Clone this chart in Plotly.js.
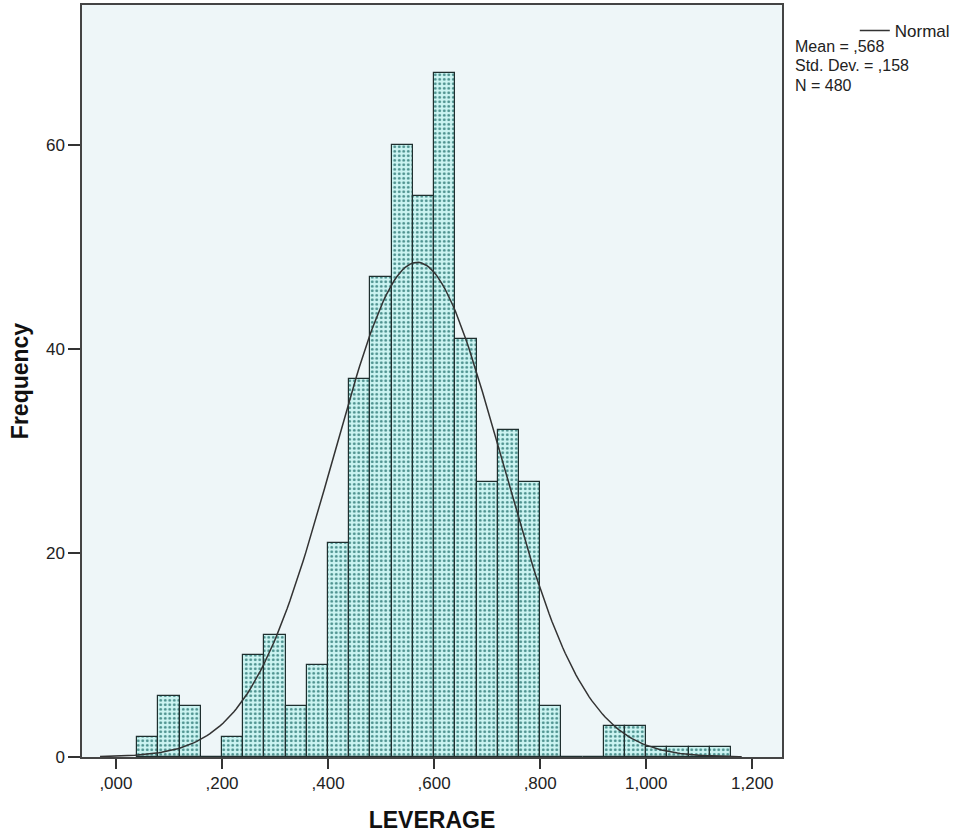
<!DOCTYPE html>
<html>
<head>
<meta charset="utf-8">
<script src="https://cdn.plot.ly/plotly-3.0.1.min.js"></script>
<style>html,body{margin:0;padding:0;background:#fff;}</style>
</head>
<body>
<div id="chart" style="width:960px;height:836px;"></div>
<script>
// Histogram bins (left edges) and frequencies
const binStarts = [0.04,0.08,0.12,0.16,0.20,0.24,0.28,0.32,0.36,0.40,0.44,0.48,0.52,0.56,0.60,0.64,0.68,0.72,0.76,0.80,0.84,0.88,0.92,0.96,1.00,1.04,1.08,1.12];
const frequencies = [2,6,5,0,2,10,12,5,9,21,37,47,60,55,67,41,27,32,27,5,0,0,3,3,1,1,1,1];
const binWidth = 0.04;

// Stated statistics for the fitted normal curve
const statMean = 0.568;
const statSD = 0.158;
const statN = 480;
const statLines = ['Mean = ,568', 'Std. Dev. = ,158', 'N = 480'];

const xTickVals = [0,0.2,0.4,0.6,0.8,1.0,1.2];
const xTickText = [",000",",200",",400",",600",",800","1,000","1,200"];
const yTickVals = [0,20,40,60];

const binCenters = binStarts.map(s => s + binWidth/2);

// Normal density scaled to counts, from the stated mean, SD and N
const curveX = [];
const curveY = [];
for (let i = 0; i <= 240; i++) {
  const x = -0.03 + i * (1.21/240);
  const z = (x - statMean) / statSD;
  curveX.push(x);
  curveY.push(statN * binWidth * Math.exp(-0.5*z*z) / (statSD*Math.sqrt(2*Math.PI)));
}

const bars = {
  type: 'bar',
  x: binCenters,
  y: frequencies,
  width: binWidth,
  showlegend: false,
  hoverinfo: 'x+y',
  marker: {
    color: '#ccf4f2',
    line: {color: '#1f2f2f', width: 1.2},
    pattern: {shape: '.', fgcolor: '#4a8f8c', bgcolor: '#ccf4f2', size: 4.5, solidity: 0.32}
  }
};

const curve = {
  type: 'scatter',
  mode: 'lines',
  x: curveX,
  y: curveY,
  name: 'Normal',
  line: {color: '#333333', width: 1.5},
  showlegend: true
};

const statY = [0.9442, 0.9189, 0.8936];
const annotations = statLines.map((t, i) => ({
  xref: 'paper', yref: 'paper',
  x: 1.0175, y: statY[i], xanchor: 'left', yanchor: 'middle',
  align: 'left', showarrow: false,
  borderpad: 0,
  text: t,
  font: {size: 16, color: '#222'}
}));

const layout = {
  width: 960,
  height: 836,
  margin: {l: 82, r: 175, t: 5, b: 79},
  paper_bgcolor: '#ffffff',
  plot_bgcolor: '#eef6f8',
  font: {family: 'Liberation Sans, Arial, sans-serif', size: 17, color: '#222'},
  bargap: 0,
  xaxis: {
    range: [-0.064, 1.256],
    tickvals: xTickVals,
    ticktext: xTickText,
    ticks: 'outside',
    ticklen: 10,
    tickwidth: 1.5,
    tickcolor: '#333',
    showline: true,
    linecolor: '#444',
    linewidth: 1.5,
    mirror: true,
    showgrid: false,
    zeroline: false,
    tickfont: {size: 17, color: '#222'},
    title: {text: 'LEVERAGE', font: {size: 23, color: '#111', weight: 'bold'}, standoff: 20}
  },
  yaxis: {
    range: [0, 73.7],
    tickvals: yTickVals,
    ticks: 'outside',
    ticklen: 12,
    tickwidth: 1.5,
    tickcolor: '#333',
    showline: true,
    linecolor: '#444',
    linewidth: 1.5,
    mirror: true,
    showgrid: false,
    zeroline: false,
    tickfont: {size: 17, color: '#222'},
    title: {text: 'Frequency', font: {size: 23, color: '#111', weight: 'bold'}, standoff: 11}
  },
  legend: {
    x: 1.104, y: 0.9654, xanchor: 'left', yanchor: 'middle',
    bgcolor: 'rgba(0,0,0,0)',
    font: {size: 17, color: '#222'},
    itemwidth: 30,
    tracegroupgap: 0
  },
  annotations: annotations
};

Plotly.newPlot('chart', [bars, curve], layout, {displayModeBar: false, responsive: false});
</script>
</body>
</html>
